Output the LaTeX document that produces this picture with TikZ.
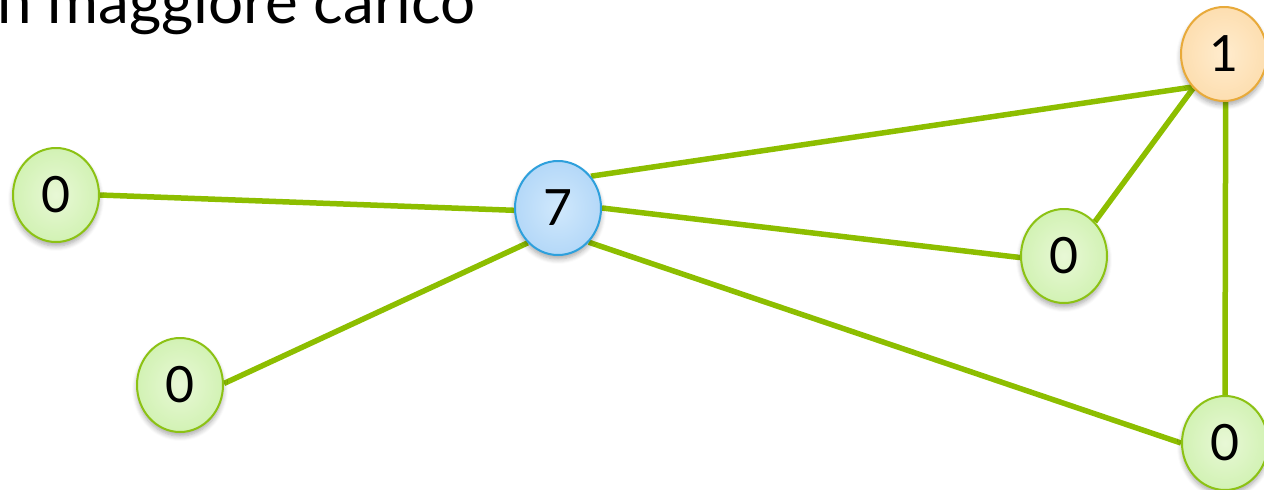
\documentclass[tikz,border=0pt]{standalone}
\usepackage{fontspec}
\setmainfont{Lato}
\usetikzlibrary{shapes.geometric,shadows.blur,backgrounds}
\definecolor{edgegreen}{RGB}{141,190,0}
\definecolor{gborder}{RGB}{140,194,20}
\definecolor{gin}{RGB}{232,248,214}
\definecolor{gout}{RGB}{210,242,180}
\definecolor{bborder}{RGB}{46,160,220}
\definecolor{bin}{RGB}{208,232,252}
\definecolor{bout}{RGB}{180,216,248}
\definecolor{oborder}{RGB}{232,170,58}
\definecolor{oin}{RGB}{255,236,206}
\definecolor{oout}{RGB}{253,222,176}
\tikzset{
  nodebase/.style={ellipse, minimum width=86pt, minimum height=94pt, inner sep=0pt,
    line width=2pt, font=\fontsize{50}{54}\selectfont,
    blur shadow={shadow blur steps=6, shadow xshift=0pt, shadow yshift=-4pt, shadow opacity=35, shadow blur radius=5pt}},
  gnode/.style={nodebase, draw=gborder, inner color=gin, outer color=gout},
  bnode/.style={nodebase, draw=bborder, inner color=bin, outer color=bout},
  onode/.style={nodebase, draw=oborder, inner color=oin, outer color=oout},
  link/.style={draw=edgegreen, line width=5.5pt}
}
\begin{document}
\begin{tikzpicture}[x=1pt,y=-1pt]
\useasboundingbox (0,0) rectangle (1264,490);
\node[anchor=base west, inner sep=0pt, font=\fontsize{62}{64}\selectfont] (title) at (-3,23) {n maggiore carico};
\node[bnode] (c) at (558,208) {7};
\node[onode] (o) at (1224,54) {1};
\node[gnode] (l) at (56,195) {0};
\node[gnode] (ll) at (180,385) {0};
\node[gnode] (m) at (1064,256) {0};
\node[gnode] (r) at (1225,443) {0};
\begin{scope}[on background layer]
\draw[link] (l.0) -- (c.183);
\draw[link] (ll.2) -- (c.229);
\draw[link] (c.44) -- (o.226);
\draw[link] (c.0) -- (m.182);
\draw[link] (c.-48) -- (r.180);
\draw[link] (m.48) -- (o.228);
\draw[link] (o.-88) -- (r.90);
\end{scope}
\end{tikzpicture}
\end{document}
